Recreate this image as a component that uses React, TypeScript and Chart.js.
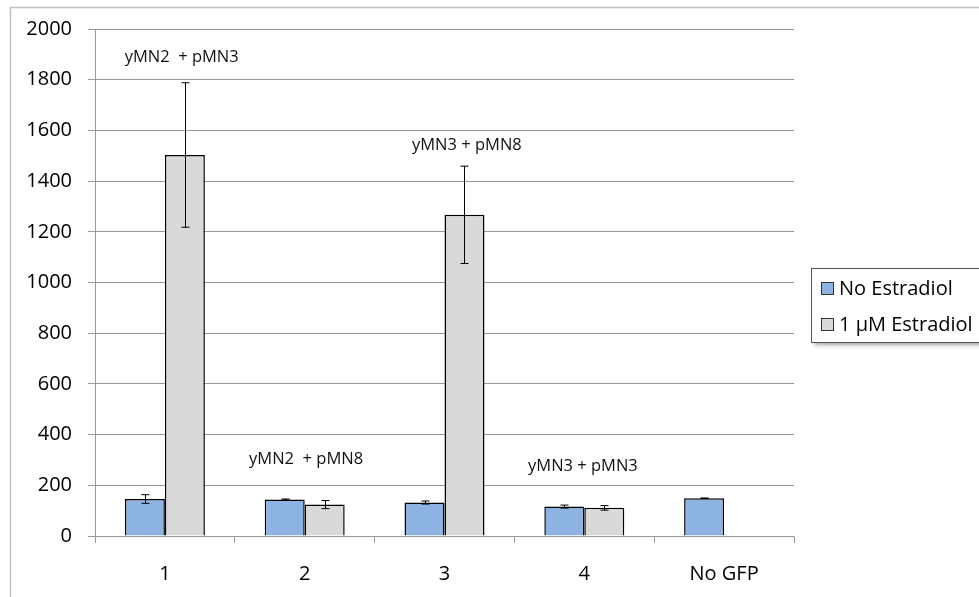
import { useEffect, useRef } from "react";
import { Chart, registerables } from "chart.js";

Chart.register(...registerables);

const categories = ["1", "2", "3", "4", "No GFP"];
const seriesLabels = ["No Estradiol", "1 µM Estradiol"];
const noEstradiol = [146, 144, 132, 116, 149];
const noEstradiolErr = [17, 2, 6, 6, 1];
const estradiol: (number | null)[] = [1503, 124, 1267, 111, null];
const estradiolErr: (number | null)[] = [285, 16, 192, 9, null];
const yTicks = [0, 200, 400, 600, 800, 1000, 1200, 1400, 1600, 1800, 2000];

const annotationTexts = ["yMN2  + pMN3", "yMN2  + pMN8", "yMN3 + pMN8", "yMN3 + pMN3"];
const annotationCats = [0, 1, 2, 3];
const annotationCatShift = [0.12, 0.01, 0.16, -0.01];
const annotationValues = [1887, 303, 1543, 275];

const FONT = "'Open Sans', 'DejaVu Sans', sans-serif";
const BLUE = "#8db3e2";
const GREY = "#d9d9d9";

export default function App() {
  const ref = useRef<HTMLCanvasElement | null>(null);

  useEffect(() => {
    if (!ref.current) return;
    const errs = [noEstradiolErr, estradiolErr];

    const plugin = {
      id: "extras",
      beforeDraw(chart: any) {
        const ctx = chart.ctx;
        ctx.save();
        ctx.fillStyle = "#fff";
        ctx.fillRect(0, 0, chart.width, chart.height);
        ctx.strokeStyle = "#c2c2c2";
        ctx.lineWidth = 1.5;
        ctx.beginPath();
        ctx.moveTo(10.5, chart.height);
        ctx.lineTo(10.5, 7.5);
        ctx.lineTo(chart.width, 7.5);
        ctx.stroke();
        ctx.restore();
      },
      afterDatasetsDraw(chart: any) {
        const ctx = chart.ctx;
        const y = chart.scales.y;
        ctx.save();
        ctx.strokeStyle = "#000";
        ctx.lineWidth = 1;
        chart.data.datasets.forEach((ds: any, di: number) => {
          const meta = chart.getDatasetMeta(di);
          meta.data.forEach((el: any, i: number) => {
            const v = ds.data[i];
            const e = errs[di][i];
            if (v == null || e == null) return;
            const x = Math.round(el.x) + 0.5;
            const top = y.getPixelForValue(v + e);
            const bot = y.getPixelForValue(v - e);
            ctx.beginPath();
            ctx.moveTo(x, top);
            ctx.lineTo(x, bot);
            ctx.moveTo(x - 4, top);
            ctx.lineTo(x + 4, top);
            ctx.moveTo(x - 4, bot);
            ctx.lineTo(x + 4, bot);
            ctx.stroke();
          });
        });
        const xs = chart.scales.x;
        const catW = (xs.right - xs.left) / categories.length;
        ctx.fillStyle = "#111";
        ctx.font = `16.5px ${FONT}`;
        ctx.textAlign = "center";
        ctx.textBaseline = "middle";
        annotationTexts.forEach((t, i) => {
          const cx = xs.getPixelForValue(annotationCats[i]) + annotationCatShift[i] * catW;
          const cy = y.getPixelForValue(annotationValues[i]);
          ctx.fillText(t, cx, cy);
        });
        ctx.restore();
      },
      afterDraw(chart: any) {
        const ctx = chart.ctx;
        const bx = 811.5, by = 268.5, bw = 175, bh = 74;
        ctx.save();
        ctx.shadowColor = "rgba(0,0,0,0.35)";
        ctx.shadowBlur = 4;
        ctx.shadowOffsetX = 2;
        ctx.shadowOffsetY = 2;
        ctx.fillStyle = "#fff";
        ctx.fillRect(bx, by, bw, bh);
        ctx.restore();
        ctx.save();
        ctx.strokeStyle = "#555";
        ctx.lineWidth = 1;
        ctx.strokeRect(bx, by, bw, bh);
        ctx.font = `20px ${FONT}`;
        ctx.textBaseline = "middle";
        ctx.textAlign = "left";
        chart.data.datasets.forEach((ds: any, i: number) => {
          const cy = 289 + i * 36;
          ctx.fillStyle = ds.backgroundColor;
          ctx.fillRect(821.5, cy - 6.5, 12, 12);
          ctx.strokeStyle = "#333";
          ctx.strokeRect(821.5, cy - 6.5, 12, 12);
          ctx.fillStyle = "#000";
          ctx.fillText(ds.label, 839, cy);
        });
        ctx.restore();
      },
    };

    const chart = new Chart(ref.current, {
      type: "bar",
      data: {
        labels: categories,
        datasets: [
          {
            label: seriesLabels[0],
            data: noEstradiol,
            backgroundColor: BLUE,
            borderColor: "#000",
            borderWidth: 1.5,
            categoryPercentage: 0.572,
            barPercentage: 1,
          },
          {
            label: seriesLabels[1],
            data: estradiol,
            backgroundColor: GREY,
            borderColor: "#000",
            borderWidth: 1.5,
            categoryPercentage: 0.572,
            barPercentage: 1,
          },
        ],
      },
      options: {
        animation: false,
        responsive: true,
        maintainAspectRatio: false,
        layout: { padding: { left: 0, top: 29, right: 185, bottom: 0 } },
        plugins: { legend: { display: false }, tooltip: { enabled: false } },
        scales: {
          x: {
            offset: true,
            grid: {
              offset: true,
              drawOnChartArea: false,
              drawTicks: true,
              tickLength: 7,
              color: "#999",
            },
            border: { color: "#999", width: 1 },
            ticks: { color: "#000", font: { family: FONT, size: 20 }, padding: 19 },
            afterFit: (s: any) => {
              s.height = 61;
            },
          },
          y: {
            min: 0,
            max: 2000,
            afterBuildTicks: (s: any) => {
              s.ticks = yTicks.map((v) => ({ value: v }));
            },
            grid: { color: "#999", tickLength: 7 },
            border: { color: "#999", width: 1 },
            ticks: {
              color: "#000",
              font: { family: FONT, size: 20 },
              padding: 16,
              callback: (v: any) => String(v),
            },
            afterFit: (s: any) => {
              s.width = 95;
            },
          },
        },
      },
      plugins: [plugin],
    });
    return () => chart.destroy();
  }, []);

  return (
    <div style={{ position: "fixed", left: 0, top: 0, width: 979, height: 597, background: "#fff" }}>
      <canvas ref={ref} />
    </div>
  );
}
